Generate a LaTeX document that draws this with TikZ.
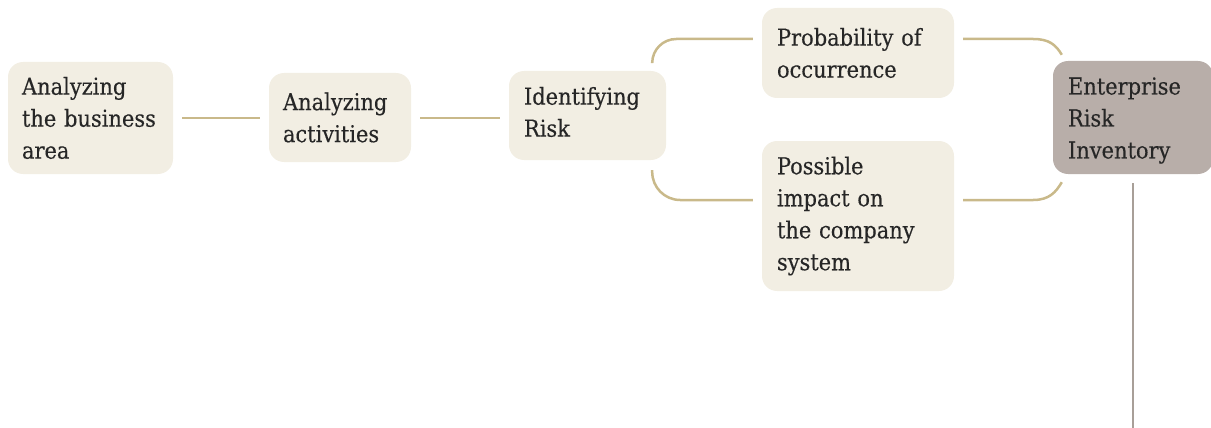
\documentclass[tikz,border=0pt]{standalone}
\usepackage{fontspec}
\setmainfont{DejaVu Serif Condensed}[FakeBold=0.3]
\usetikzlibrary{calc}
\definecolor{boxfill}{HTML}{F2EEE3}
\definecolor{darkfill}{HTML}{B8AEA9}
\definecolor{gold}{HTML}{C9B98A}
\definecolor{taupe}{HTML}{A89F98}
\definecolor{ink}{HTML}{262626}
\begin{document}
\begin{tikzpicture}[x=1pt,y=-1pt,
  box/.style={fill=boxfill, rounded corners=15pt, inner sep=0pt, text=ink,
    font=\fontsize{23.3}{32}\selectfont, align=left},
  conn/.style={draw=gold, line width=2.5pt},
  stem/.style={draw=taupe, line width=2.5pt}]
\useasboundingbox (0,0) rectangle (1211,428);
\node[box, minimum width=165pt, minimum height=112pt, text width=137pt] (b1) at (90.5,118) {Analyzing\\the business\\area};
\node[box, minimum width=142pt, minimum height=89pt, text width=114pt] (b2) at (340,117.5) {Analyzing\\activities};
\node[box, minimum width=157pt, minimum height=89pt, text width=129pt] (b3) at (587.5,115.5) {};
\node[text=ink, font=\fontsize{23.3}{32}\selectfont, align=left, inner sep=0pt, text width=129pt] (b3t) at (588.5,112) {Identifying\\Risk};
\node[box, minimum width=192pt, minimum height=90pt, text width=162pt] (b4) at (858,53) {Probability of\\occurrence};
\node[box, minimum width=192pt, minimum height=150pt, text width=162pt] (b5) at (858,216) {Possible\\impact on\\the company\\system};
\node[box, fill=darkfill, minimum width=160pt, minimum height=113pt, text width=130pt] (b6) at (1133,117.5) {};
\node[text=ink, font=\fontsize{23.3}{32}\selectfont, align=left, inner sep=0pt, text width=130pt] (b6t) at (1133,120.5) {Enterprise\\Risk\\Inventory};

\draw[conn, shorten <=9pt, shorten >=9pt] (b1.east) -- (b1.east -| b2.west);
\draw[conn, shorten <=9pt, shorten >=9pt] (b1.east -| b2.east) -- (b1.east -| b3.west);

\coordinate (t0) at ($(b3.north east)+(-14,-9)$);
\coordinate (t1) at ($(b4.west)+(-9,-14)$);
\draw[conn, rounded corners=24pt] (t0) |- (t1);
\coordinate (u0) at ($(b3.south east)+(-14,10)$);
\coordinate (u1) at ($(b5.west)+(-9,-16)$);
\draw[conn, rounded corners=28pt] (u0) |- (u1);

\coordinate (t2) at ($(b4.east)+(9,-14)$);
\coordinate (t3) at ($(b6.north west)+(9,-6)$);
\draw[conn] (t2) -- ($(t2)+(70,0)$) .. controls ($(t2)+(86,0)$) and ($(t3)+(-6,-10)$) .. (t3);
\coordinate (u2) at ($(b5.east)+(9,-16)$);
\coordinate (u3) at ($(b6.south west)+(9,8)$);
\draw[conn] (u2) -- ($(u2)+(70,0)$) .. controls ($(u2)+(86,0)$) and ($(u3)+(-6,10)$) .. (u3);

\coordinate (s1) at (1133,428);
\draw[stem] ($(b6.south)+(0,9)$) -- (s1);
\end{tikzpicture}
\end{document}
